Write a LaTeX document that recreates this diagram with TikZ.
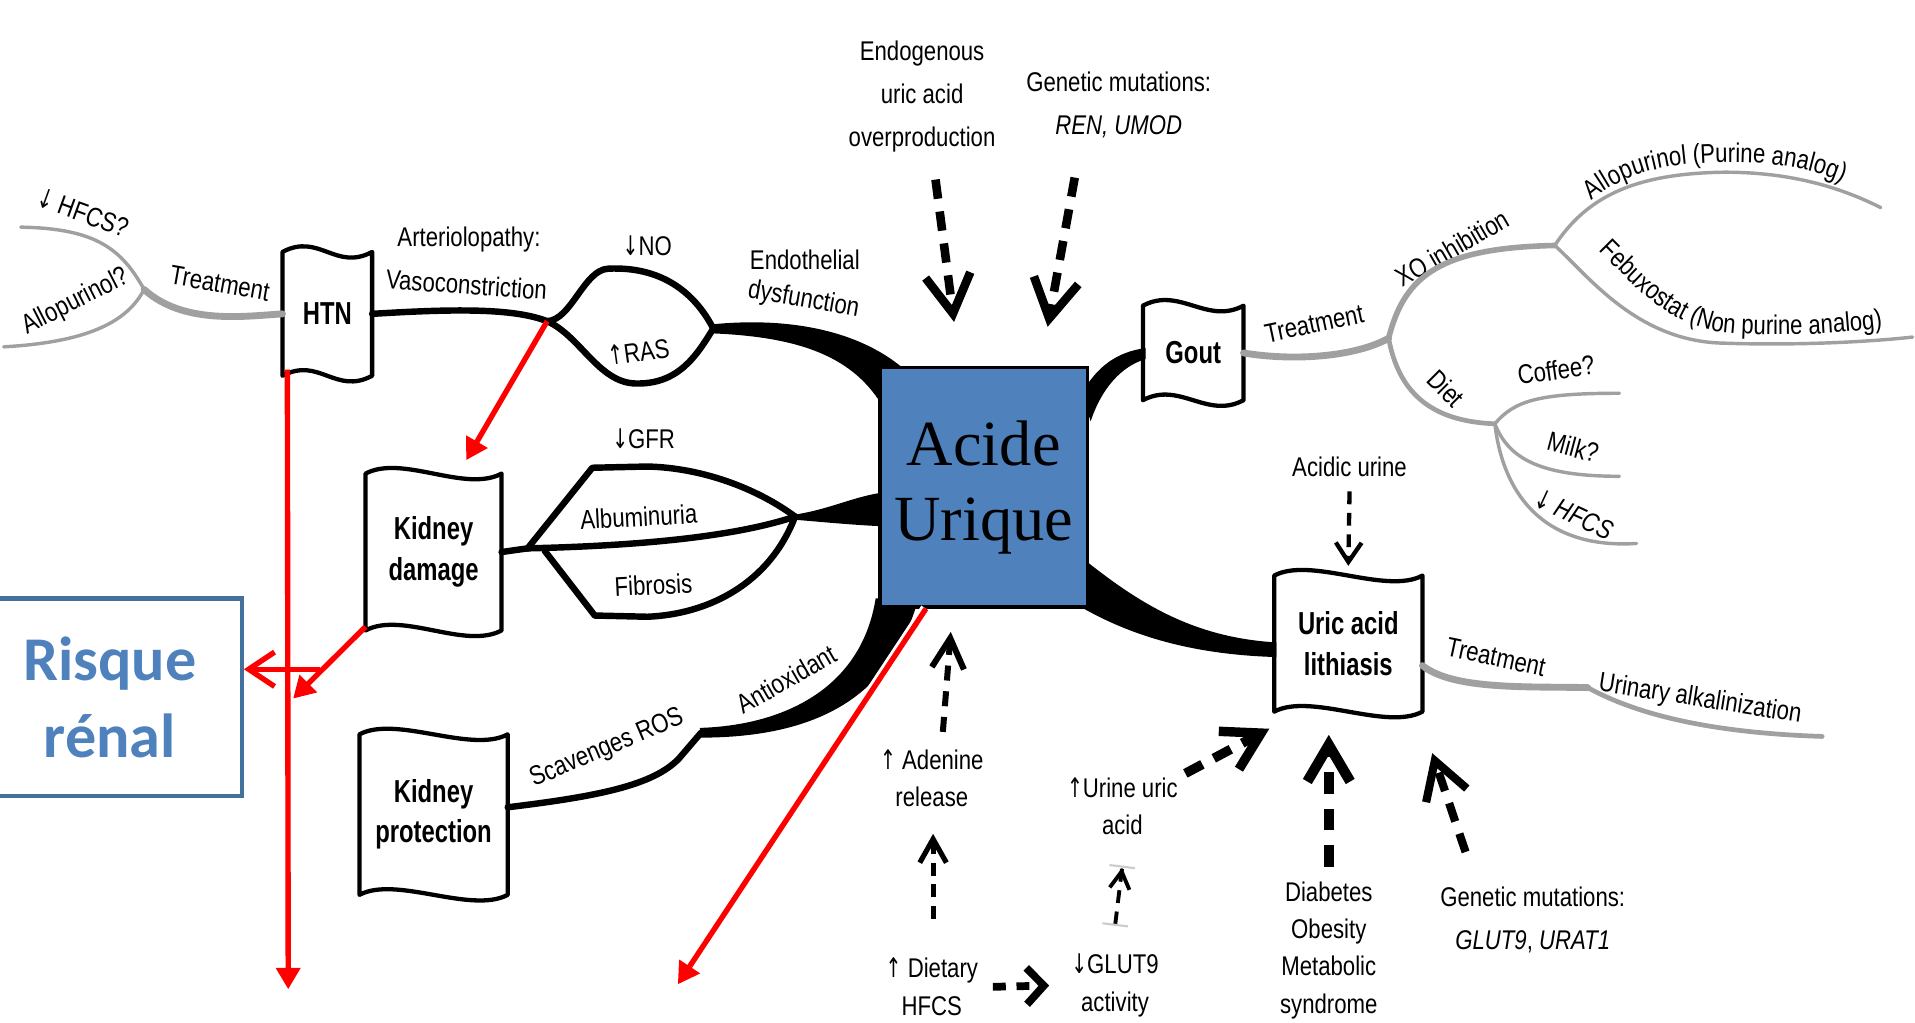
\documentclass[tikz,border=0pt]{standalone}
\usepackage{fontspec}
\usepackage{tikz}
\usetikzlibrary{positioning}
\usetikzlibrary{calc}
\usetikzlibrary{arrows.meta}
\usetikzlibrary{decorations.text}
\newfontfamily\narrowfont[FakeStretch=0.82]{Liberation Sans}
\newfontfamily\boldnarrow[FakeStretch=0.75]{Liberation Sans}
\newfontfamily\arrowfont[FakeStretch=0.7]{DejaVu Sans}
\newfontfamily\timesfont{Liberation Serif}
\newfontfamily\calibfont{Carlito}
\newcommand\lblfont{\narrowfont\fontsize{6.3}{8.7}\selectfont}
\newcommand\boxfont{\boldnarrow\bfseries\fontsize{7.4}{9.4}\selectfont}
\newcommand\dnar{{\arrowfont ↓}}
\newcommand\upar{{\arrowfont ↑}}
\definecolor{ublue}{RGB}{79,129,189}
\definecolor{riskline}{RGB}{65,113,156}
\definecolor{treegray}{RGB}{160,160,160}
\tikzset{
lbl/.style={
  font=\lblfont,
  inner sep=1pt,
  align=center
  },
flagbox/.style={
  font=\boxfont,
  inner sep=0pt,
  align=center
  },
flagline/.style={line width=1pt,line join=round},
branch/.style={line width=1.5pt,line cap=round,line join=round},
stem/.style={draw=treegray,line width=1.6pt,line cap=round},
twig/.style={draw=treegray,line width=0.8pt,line cap=round},
thindash/.style={line width=1pt,dash pattern=on 3pt off 2pt,-{Straight Barb[length=4.5pt,width=6pt]}},
middash/.style={line width=1.4pt,dash pattern=on 3.5pt off 2.5pt,-{Straight Barb[length=6pt,width=7pt]}},
bigdash/.style={line width=2pt,dash pattern=on 4.5pt off 3pt,-{Straight Barb[length=8.5pt,width=10pt]}},
redarrow/.style={draw=red,line width=1.25pt,-{Triangle[length=5pt,width=5.5pt]}},
redopen/.style={draw=red,line width=1.25pt,-{Straight Barb[length=6pt,width=8pt]}}
}

\begin{document}
\begin{tikzpicture}[x=0.1mm,y=-0.1mm]
\useasboundingbox (0,0) rectangle (1568,837);

% thick black bands behind the central box
\fill (584,265.5) .. controls (640,260) and (700,268) .. (740,302) -- (724,335) .. controls (700,292) and (655,276) .. (584,273) -- cycle;
\fill (650,421.5) .. controls (680,417) and (700,406) .. (725,403) -- (725,431) .. controls (700,430) and (680,428) .. (650,425.5) -- cycle;
\fill (573,596) .. controls (640,594) and (705,565) .. (717,490) -- (752,490) .. controls (730,570) and (670,604) .. (573,604) -- cycle;
\fill (886,322) .. controls (898,300) and (915,288) .. (938,285) -- (938,294) .. controls (918,300) and (902,318) .. (893,345) -- cycle;
\fill (885,456) .. controls (930,492) and (975,522) .. (1045,526) -- (1045,538) .. controls (975,536) and (925,520) .. (885,497) -- cycle;

\node[draw=black,line width=0.8pt,fill=ublue,minimum width=16.9mm,minimum height=19.6mm,align=center,
      font=\timesfont\fontsize{15}{17.6}\selectfont] (acide) at (805.5,399) {Acide\\Urique};

\node[flagbox,minimum width=7.2mm,minimum height=10mm] (htn) at (268,257) {HTN};
\node[flagbox,minimum width=11mm,minimum height=12.7mm] (kdam) at (355,452) {Kidney\\damage};
\node[flagbox,minimum width=12mm,minimum height=13mm] (kprot) at (355,667) {Kidney\\protection};
\node[flagbox,minimum width=8.1mm,minimum height=7.6mm] (gout) at (977,289) {Gout};
\node[flagbox,minimum width=12mm,minimum height=11mm] (lith) at (1104,527) {Uric acid\\lithiasis};
\foreach \n in {htn,kdam,kprot,gout,lith}
  \draw[flagline] (\n.north west) .. controls +(30,-16) and +(-30,16) .. (\n.north east) -- (\n.south east)
    .. controls +(-30,16) and +(30,-16) .. (\n.south west) -- cycle;

\node[lbl,rotate=-20] (hfcsl) at (68,174) {\dnar{} HFCS?};
\node[lbl,rotate=27] (allol) at (62,247) {Allopurinol?};
\node[lbl,rotate=-10] (treatl) at (180,232) {Treatment};
\node[lbl] (arter1) at (384,196) {Arteriolopathy:};
\node[lbl,rotate=-4] (arter2) at (382,233) {Vasoconstriction};
\node[lbl] (no) at (530,201) {\dnar NO};
\node[lbl,rotate=8] (ras) at (523,288) {\upar RAS};
\node[lbl] (endo1) at (659,213) {Endothelial};
\node[lbl,rotate=-10] (endo2) at (658,246) {dysfunction};
\node[lbl] (endog) at (755,79) {Endogenous\\[1.4pt]uric acid\\[1.4pt]overproduction};
\node[lbl] (genren) at (916,86) {Genetic mutations:\\[1.4pt]\textit{REN, UMOD}};
\node[lbl] (gfr) at (527,359) {\dnar GFR};
\node[lbl,rotate=3] (albu) at (523,423) {Albuminuria};
\node[lbl,rotate=3] (fibro) at (535,479) {Fibrosis};
\node[lbl,rotate=23] (scav) at (497,613) {Scavenges ROS};
\node[lbl,rotate=30] (antiox) at (644,556) {Antioxidant};
\node[lbl,rotate=12] (treatg) at (1076,265) {Treatment};
\node[lbl,rotate=30] (xo) at (1189,203) {XO inhibition};
\node[lbl,rotate=-45] (diet) at (1184,318) {Diet};
\node[lbl,rotate=8] (coffee) at (1274,303) {Coffee?};
\node[lbl,rotate=-15] (milk) at (1288,366) {Milk?};
\node[lbl,rotate=-25] (hfcsr) at (1289,421) {\dnar{} \textit{HFCS}};
\node[lbl] (acidic) at (1105,382) {Acidic urine};
\node[lbl,rotate=-12] (treatu) at (1225,538) {Treatment};
\node[lbl,rotate=-9] (alkal) at (1392,573) {Urinary alkalinization};
\node[lbl] (adenine) at (763,637) {\upar{} Adenine\\release};
\node[lbl] (urine) at (919,660) {\upar Urine uric\\acid};
\node[lbl] (dietary) at (763,808) {\upar{} Dietary\\HFCS};
\node[lbl] (glut) at (913,807) {\dnar GLUT9\\activity};
\node[lbl] (diab) at (1088,778) {Diabetes\\Obesity\\Metabolic\\syndrome};
\node[lbl] (genglut) at (1255,753) {Genetic mutations:\\[1.4pt]\textit{GLUT9}, \textit{URAT1}};

\path[decorate,decoration={text along path,text align=center,text={|\lblfont|Allopurinol (Purine analog)}}]
  (1288,180) .. controls (1322,138) and (1370,133) .. (1420,133) .. controls (1465,133) and (1500,142) .. (1528,160);
\path[decorate,decoration={text along path,text align=center,text={|\lblfont|Febuxostat (Non purine analog)}}]
  (1294,191) .. controls (1330,222) and (1360,270) .. (1420,273) .. controls (1470,276) and (1520,272) .. (1562,266);

\coordinate (vsplit) at (448,263);
\coordinate (vjoin) at (584,269);
\coordinate (ksplit) at (432,449);
\coordinate (fsplit) at (446,451);
\coordinate (kjoin) at (651,423);
\draw[branch] (htn.east) .. controls (370,253) and (420,252) .. (vsplit);
\draw[branch] (vsplit) .. controls (468,262) and (478,221) .. (498,220) .. controls (540,218) and (568,238) .. (vjoin);
\draw[branch] (vsplit) .. controls (475,275) and (490,313) .. (520,314) .. controls (555,315) and (570,292) .. (vjoin);
\draw[branch] (kdam.east) -- (ksplit);
\draw[branch] (ksplit) -- (485,383) -- (530,382) .. controls (575,383) and (620,400) .. (kjoin);
\draw[branch] (ksplit) .. controls (520,447) and (600,440) .. (kjoin);
\draw[branch] (fsplit) -- (487,504) -- (530,505) .. controls (580,503) and (630,478) .. (kjoin);
\draw[branch] ($(kprot.east)+(0,-6)$) .. controls (490,652) and (535,643) .. (556,621) -- (574,600);

\coordinate (lbr) at (118,237);
\coordinate (gbr) at (1137,277);
\coordinate (xbr) at (1273,201);
\coordinate (dbr) at (1224,347);
\coordinate (ubr) at (1300,563);
\draw[stem] (htn.west) .. controls (200,259) and (150,266) .. (lbr);
\draw[twig] (lbr) .. controls (100,205) and (80,187) .. (17,186);
\draw[twig] (lbr) .. controls (105,262) and (75,280) .. (3,284);
\draw[stem] (gout.east) .. controls (1060,296) and (1110,292) .. (gbr);
\draw[stem,line width=1.3pt] (gbr) .. controls (1150,225) and (1180,203) .. (xbr);
\draw[twig] (xbr) .. controls (1300,160) and (1340,142) .. (1412,141) .. controls (1470,141) and (1510,155) .. (1540,170);
\draw[twig] (xbr) .. controls (1300,225) and (1340,280) .. (1412,281) .. controls (1470,283) and (1530,280) .. (1566,276);
\draw[stem,line width=1.1pt] (gbr) .. controls (1145,320) and (1170,345) .. (dbr);
\draw[twig] (dbr) .. controls (1240,328) and (1260,322) .. (1326,322);
\draw[twig] (dbr) .. controls (1235,375) and (1260,390) .. (1326,390);
\draw[twig] (dbr) .. controls (1230,400) and (1260,450) .. (1340,445);
\draw[stem] ($(lith.east)+(0,18)$) .. controls (1190,565) and (1250,562) .. (ubr);
\draw[twig,line width=1.1pt] (ubr) .. controls (1340,585) and (1400,600) .. (1492,603);

\draw[bigdash,-{Straight Barb[length=9pt,width=10.5pt]}] ($(endog.south)+(11,18)$) -- ($(acide.north west)+(62,-36)$);
\draw[bigdash,-{Straight Barb[length=9pt,width=10.5pt]}] ($(genren.south)+(-36,28)$) -- ($(acide.north east)+(-34,-32)$);
\draw[thindash] ($(acidic.south)+(0,8)$) -- ($(lith.north)+(0,-8)$);
\draw[middash,-{Straight Barb[length=7pt,width=7.5pt]}] ($(adenine.north)+(9,-10)$) -- ($(acide.south)+(-27,19)$);
\draw[thindash,line width=1.2pt,-{Straight Barb[length=5.5pt,width=6.2pt]}] ($(dietary.north)+(1,-28)$) -- ($(adenine.south)+(1,18)$);
\draw[bigdash,line width=1.8pt,dash pattern=on 3pt off 2.5pt,-{Straight Barb[length=4pt,width=8.5pt]}] ($(dietary.east)+(8,0)$) -- ($(glut.west)+(-14,0)$);
\draw[thindash,line width=0.9pt,{Bar[color=gray!40,width=6pt,line width=0.5pt]}-{Straight Barb[length=4pt,width=4.6pt] Bar[color=gray!40,width=6pt,line width=0.5pt]}]
  ($(glut.north)+(0,-19)$) -- ($(urine.south)+(0,21)$);
\draw[bigdash,line width=2.2pt] ($(urine.north east)+(2,1)$) -- ($(lith.south west)+(-4,14)$);
\draw[bigdash,line width=2.4pt,dash pattern=on 5pt off 3.5pt] ($(diab.north)+(0,-8)$) -- ($(lith.south)+(-16,19)$);
\draw[bigdash,line width=1.9pt] ($(genglut.north)+(-55,-24)$) -- ($(lith.south east)+(8,34)$);

\node[draw=riskline,line width=1pt,minimum width=21.6mm,minimum height=16.2mm,align=center,text=ublue,
      font=\calibfont\bfseries\fontsize{14.5}{18}\selectfont] (risque) at (90,571) {Risque\\rénal};

\coordinate (rdown) at (236,810);
\coordinate (rmeet) at (240,572);
\coordinate (rh) at (262,548);
\coordinate (rlow) at (555,806);
\draw[redarrow] ($(htn.south west)+(4,-5)$) -- (rdown);
\draw[redarrow] (vsplit) -- ($(kdam.north east)+(-29,-11)$);
\draw[redarrow] ($(kdam.south west)+(0,-3)$) -- (rmeet);
\draw[redopen] (rh) -- (rh -| risque.east);
\draw[redarrow,preaction={draw=white,line width=2.6pt}] ($(acide.south west)+(39,0)$) -- (rlow);
\end{tikzpicture}
\end{document}
